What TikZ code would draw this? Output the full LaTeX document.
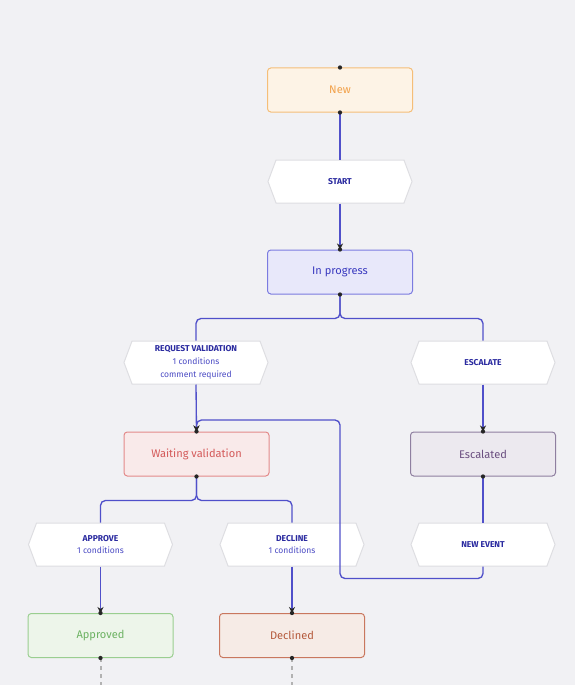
\documentclass[tikz,border=0pt]{standalone}
\usepackage{fontspec}
\setmainfont{Fira Sans}
\usetikzlibrary{shapes.symbols,arrows.meta}

\definecolor{bg}{HTML}{F1F1F4}
\definecolor{linkc}{HTML}{5050CA}
\definecolor{hexline}{HTML}{DEDEE2}
\definecolor{tname}{HTML}{2B2BA0}
\definecolor{tnote}{HTML}{4A4AC4}

\begin{document}
\begin{tikzpicture}[x=0.75pt,y=-0.75pt,
	state/.style={draw,line width=0.75pt,rounded corners=2.5pt,
		minimum width=108.75pt,minimum height=33pt,font=\fontsize{8.3}{10}\selectfont},
	trans/.style={draw=hexline,fill=white,line width=0.75pt,signal,
		signal to=west and east,signal pointer angle=139,
		minimum width=108pt,minimum height=32.25pt,inner sep=0pt,
		align=center,text=tname,font=\fontsize{6.4}{9.6}\selectfont},
	link/.style={draw=linkc,line width=1pt,rounded corners=3.75pt},
	linkto/.style={link,-{Stealth[length=4.5pt,width=4.5pt,color=black!85]}},
	dot/.style={fill=black!85,radius=1.6pt}]
	
	\fill[bg] (0,0) rectangle (575,685);
	\useasboundingbox (0,0) rectangle (575,685);
	
	% states
	\node[state,draw={rgb,255:red,245;green,190;blue,120},
	fill={rgb,255:red,253;green,243;blue,230},
	text={rgb,255:red,242;green,161;blue,74}] (new) at (340,90) {New};
	\node[state,draw={rgb,255:red,123;green,123;blue,224},
	fill={rgb,255:red,232;green,232;blue,250},
	text={rgb,255:red,58;green,58;blue,192}] (prog) at (340,272) {In progress};
	\node[state,draw={rgb,255:red,227;green,138;blue,138},
	fill={rgb,255:red,249;green,234;blue,234},
	text={rgb,255:red,212;green,90;blue,90}] (wait) at (196.5,454) 
	{Waiting validation};
	\node[state,draw={rgb,255:red,143;green,127;blue,160},
	fill={rgb,255:red,236;green,233;blue,239},
	text={rgb,255:red,107;green,79;blue,128}] (esc) at (483,454) {Escalated};
	\node[state,draw={rgb,255:red,154;green,206;blue,144},
	fill={rgb,255:red,237;green,245;blue,234},
	text={rgb,255:red,108;green,178;blue,98}] (appr) at (100.5,635.5) {Approved};
	\node[state,draw={rgb,255:red,201;green,119;blue,94},
	fill={rgb,255:red,246;green,235;blue,230},
	text={rgb,255:red,181;green,90;blue,60}] (decl) at (292,635.5) {Declined};
	
	% transitions
	\node[trans] (start) at (340,181.5) {\textbf{START}};
	\node[trans] (reqval) at (196,362.5) {\textbf{REQUEST VALIDATION}\\
		\color{tnote}1 conditions\\ \color{tnote}comment required};
	\node[trans] (escal) at (483,362.5) {\textbf{ESCALATE}};
	\node[trans] (approve) at (100.5,544.5) {\textbf{APPROVE}\\
		\color{tnote}1 conditions};
	\node[trans] (decline) at (292,544.5) {\textbf{DECLINE}\\
		\color{tnote}1 conditions};
	\node[trans] (newev) at (483,544.5) {\textbf{NEW EVENT}};
	
	% lines
	\draw[link] (new.south) -- (start.north);
	\draw[linkto] (start.south) -- (prog.north);
	\draw[link] (prog.south) -- ++(0,24) -| (reqval.north);
	\draw[link] (prog.south) -- ++(0,24) -| (escal.north);
	\draw[linkto] (reqval.south) -- (wait.north);
	\draw[linkto] (escal.south) -- (esc.north);
	\draw[link] (wait.south) -- ++(0,24) -| (approve.north);
	\draw[link] (wait.south) -- ++(0,24) -| (decline.north);
	\draw[linkto] (approve.south) -- (appr.north);
	\draw[linkto] (decline.south) -- (decl.north);
	\draw[link] (esc.south) -- (newev.north);
	\coordinate (back) at (340,420);
	\draw[linkto] (newev.south) -- ++(0,12) -| (back) -| (wait.north);
	
	\coordinate (apprend) at (100.5,685);
	\coordinate (declend) at (292,685);
	\draw[gray!60,line width=1.5pt,dash pattern=on 3pt off 3pt] 
	(appr.south) -- (apprend);
	\draw[gray!60,line width=1.5pt,dash pattern=on 3pt off 3pt] 
	(decl.south) -- (declend);
	
	% dots
	\foreach \s in {new,prog,wait,esc,appr,decl} {
		\fill[dot] (\s.north) circle;
		\fill[dot] (\s.south) circle;
	}
\end{tikzpicture}
\end{document}
